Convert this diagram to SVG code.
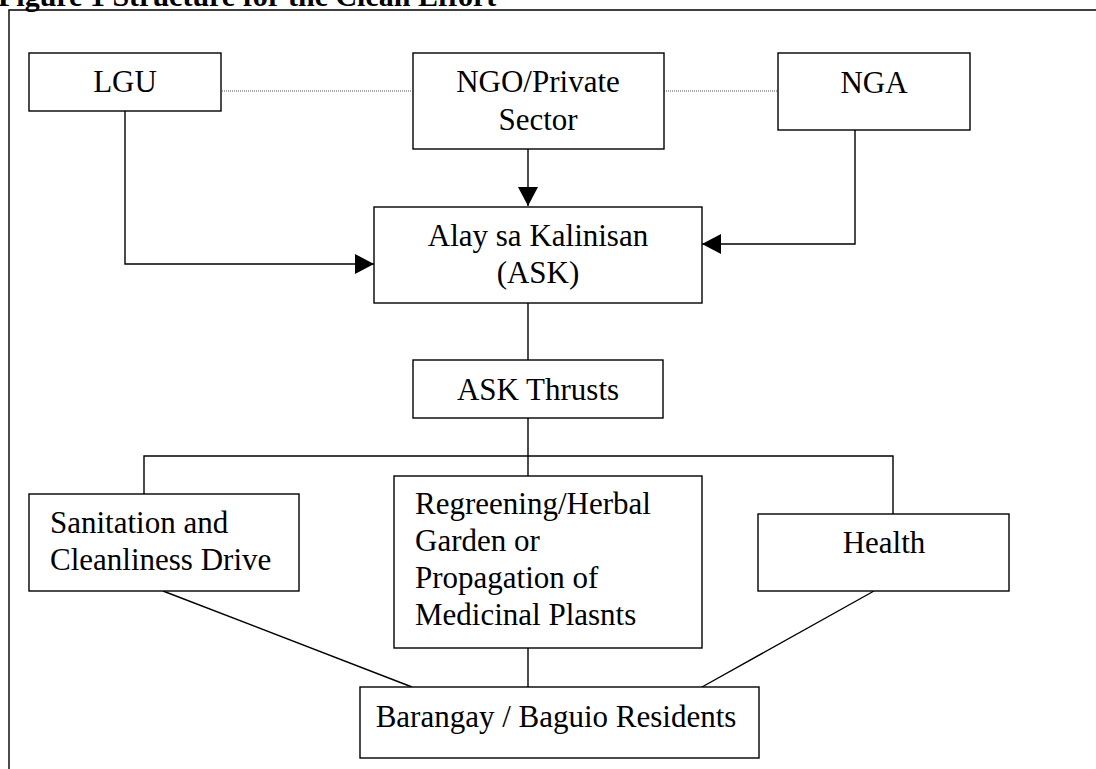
<svg xmlns="http://www.w3.org/2000/svg" width="1096" height="769" viewBox="0 0 1096 769">
<style>
.box{fill:#fff;stroke:#000;stroke-width:1.4}
.t{font-family:"Liberation Serif","Times New Roman",serif;font-size:31px;fill:#000}
.c{text-anchor:middle}
.ln{fill:none;stroke:#000;stroke-width:1.4}
.dot{fill:none;stroke:#555;stroke-width:1;stroke-dasharray:1 1}
</style>
<defs>
<marker id="arr" markerWidth="20" markerHeight="20" refX="19" refY="10" orient="auto" markerUnits="userSpaceOnUse"><path d="M0,0 L19,10 L0,20 z" fill="#000"/></marker>
</defs>
<rect width="1096" height="769" fill="#fff"/>
<text x="-2" y="6" style="font-family:'Liberation Serif','Times New Roman',serif;font-size:30px;font-weight:bold">Figure 1 Structure for the Clean Effort</text>
<path d="M9,769 V10 H1096" class="ln"/>
<g id="connectors">
<path class="dot" d="M222,91 H412"/>
<path class="dot" d="M664,91 H778"/>
<path class="ln" d="M125,111 V264 H374" marker-end="url(#arr)"/>
<path class="ln" d="M528,149 V206" marker-end="url(#arr)"/>
<path class="ln" d="M855,130 V244 H702" marker-end="url(#arr)"/>
<path class="ln" d="M528,303 V360"/>
<path class="ln" d="M528,418 V476"/>
<path class="ln" d="M144,494 V456 H893 V514"/>
<path class="ln" d="M163,591 L412,687"/>
<path class="ln" d="M528,648 V687"/>
<path class="ln" d="M874,591 L702,687"/>
</g>
<g id="lgu"><rect class="box" x="29" y="53" width="192" height="58"/><text class="t c" x="125" y="92">LGU</text></g>
<g id="ngo"><rect class="box" x="413" y="53" width="251" height="96"/><text class="t c" x="538" y="92">NGO/Private</text><text class="t c" x="538" y="130">Sector</text></g>
<g id="nga"><rect class="box" x="778" y="53" width="192" height="77"/><text class="t c" x="874" y="93">NGA</text></g>
<g id="ask"><rect class="box" x="374" y="207" width="328" height="96"/><text class="t c" x="538" y="246">Alay sa Kalinisan</text><text class="t c" x="538" y="283">(ASK)</text></g>
<g id="thrusts"><rect class="box" x="413" y="360" width="250" height="58"/><text class="t c" x="538" y="400">ASK Thrusts</text></g>
<g id="sanitation"><rect class="box" x="29" y="494" width="270" height="97"/><text class="t" x="50" y="533">Sanitation and</text><text class="t" x="50" y="570">Cleanliness Drive</text></g>
<g id="regreening"><rect class="box" x="394" y="476" width="308" height="172"/><text class="t" x="415" y="514">Regreening/Herbal</text><text class="t" x="415" y="551">Garden or</text><text class="t" x="415" y="588">Propagation of</text><text class="t" x="415" y="625">Medicinal Plasnts</text></g>
<g id="health"><rect class="box" x="758" y="514" width="251" height="77"/><text class="t c" x="884" y="553">Health</text></g>
<g id="residents"><rect class="box" x="360" y="687" width="399" height="71"/><text class="t c" x="556" y="727">Barangay / Baguio Residents</text></g>
</svg>
